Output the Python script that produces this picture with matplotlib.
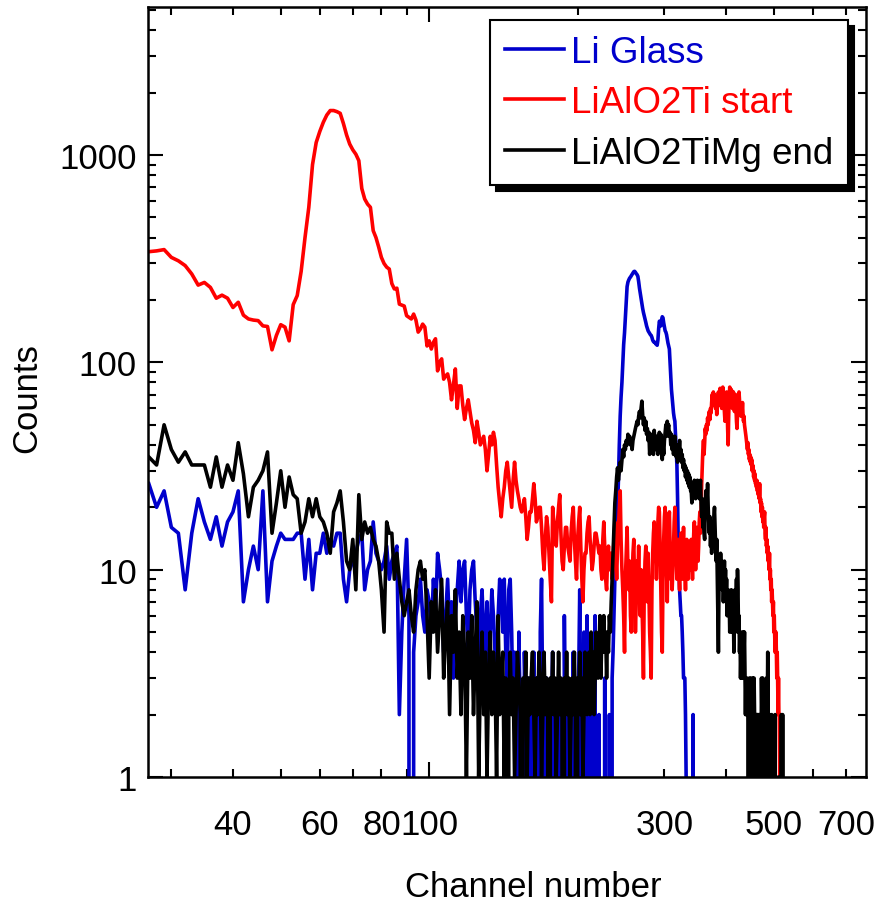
import numpy as np
import matplotlib
matplotlib.use("Agg")
import matplotlib.pyplot as plt
from matplotlib.ticker import FixedLocator, FuncFormatter, NullFormatter

plt.rcParams['font.family'] = ['Liberation Sans', 'DejaVu Sans']

# counts per channel, first channel = 27
first_channel = 27

li_glass = [
    26, 20, 24,
    16, 15, 8, 15, 22, 17, 14, 18, 13, 17,
    19, 24, 7, 10, 13, 10, 24, 7, 11, 13,
    15, 14, 14, 14, 15, 15, 9, 14, 8, 12,
    12, 15, 12, 14, 13, 15, 15, 9, 7, 10,
    11, 12, 14, 15, 8, 10, 11, 17, 12, 11,
    10, 11, 13, 9, 11, 12, 13, 2, 5, 9,
    14, 6, 0, 4, 6, 7, 9, 6, 5, 8,
    7, 5, 9, 6, 12, 10, 8, 4, 6, 9,
    5, 7, 3, 6, 8, 11, 7, 10, 11, 6,
    4, 8, 10, 11, 7, 5, 3, 6, 8, 5,
    4, 7, 3, 5, 8, 6, 4, 2, 6, 9,
    7, 5, 9, 4, 3, 8, 9, 5, 2, 4,
    3, 0, 5, 2, 1, 0, 4, 2, 0, 3,
    1, 0, 2, 4, 1, 0, 3, 0, 5, 9,
    2, 0, 1, 3, 0, 2, 0, 1, 4, 0,
    2, 0, 0, 3, 1, 0, 2, 0, 6, 1,
    0, 3, 0, 2, 0, 1, 4, 0, 2, 0,
    0, 3, 8, 2, 0, 1, 5, 0, 2, 6,
    0, 3, 0, 0, 4, 0, 0, 6, 0, 0,
    0, 2, 0, 0, 0, 0, 0, 3, 0, 0,
    0, 0, 2, 0, 0, 3, 4, 6, 9, 12,
    14, 20, 27, 40, 55, 68, 80, 100, 122, 139,
    165, 200, 232, 244, 250, 255, 258, 262, 266, 270,
    274, 275, 272, 268, 265, 260, 245, 228, 215, 203,
    192, 182, 174, 168, 162, 156, 150, 146, 142, 140,
    138, 136, 135, 132, 128, 126, 125, 125, 123, 122,
    121, 128, 145, 158, 155, 150, 160, 166, 164, 155,
    148, 142, 140, 136, 130, 124, 120, 116, 100, 86,
    74, 68, 62, 57, 54, 52, 44, 38, 32, 22,
    13, 10, 8, 7, 6, 6, 5, 4, 3, 3,
    3, 2, 1, 0, 0, 0, 0, 0, 0, 0,
    0, 0, 0, 2, 0, 0, 0, 0, 0, 0,
    0, 0, 0, 0, 0, 0, 0, 0, 0, 0,
    0, 0, 0, 0, 0, 0, 0, 0, 0, 0,
    0, 0, 0, 0, 0, 0, 0, 0, 0, 0,
    0, 0, 0, 0, 0, 0, 0, 0, 0, 0,
    0, 0, 0, 0, 0, 0, 0, 0, 0, 0,
    0, 0, 0, 0, 0, 0, 0, 0, 0, 0,
    0, 0, 0, 0, 0, 0, 0, 0, 0, 0,
    0, 0, 0, 0, 0, 0, 0, 0, 0, 0,
    0, 0, 0, 0, 0, 0, 0, 0, 0, 0,
    0, 0, 0, 0, 0, 0, 0, 0, 0, 0,
    0, 0, 0, 0, 0, 0, 0, 0, 0, 0,
    0, 0, 0, 0, 0, 0, 0, 0, 0, 0,
    0, 0, 0, 0, 0, 0, 0, 0, 0, 0,
    0, 0, 0, 0, 0, 0, 0, 0, 0, 0,
    0, 0, 0, 0, 0, 0, 0, 0, 0, 0,
    0, 0, 0, 0, 0, 0, 0, 0, 0, 0,
    0, 0, 0,
]

lialo2ti_start = [
    342, 345, 350,
    321, 309, 293, 267, 236, 243, 230, 204, 211, 204,
    184, 195, 169, 162, 160, 159, 150, 149, 115, 135,
    152, 148, 127, 190, 210, 275, 400, 560, 900, 1150,
    1300, 1440, 1560, 1640, 1640, 1620, 1590, 1420, 1250, 1130,
    1060, 1010, 940, 690, 614, 580, 560, 432, 400, 360,
    321, 300, 288, 282, 240, 226, 228, 191, 189, 187,
    168, 165, 162, 171, 160, 140, 145, 153, 148, 120,
    127, 116, 125, 130, 91, 100, 104, 83, 86, 88,
    80, 66, 78, 93, 60, 77, 77, 62, 53, 60,
    66, 58, 51, 47, 41, 52, 46, 40, 42, 44,
    38, 30, 36, 44, 40, 46, 42, 32, 25, 21,
    18, 22, 25, 30, 33, 28, 24, 20, 27, 33,
    27, 24, 22, 20, 19, 20, 22, 18, 14, 16,
    19, 19, 22, 26, 22, 17, 18, 20, 20, 16,
    12, 10, 14, 18, 16, 12, 9, 7, 20, 17,
    15, 13, 17, 20, 23, 15, 11, 10, 13, 16,
    16, 13, 12, 11, 15, 18, 20, 14, 11, 9,
    14, 17, 20, 13, 9, 7, 10, 12, 12, 15,
    17, 18, 14, 12, 10, 11, 13, 15, 15, 14,
    13, 12, 13, 10, 9, 14, 17, 13, 9, 8,
    11, 13, 10, 10, 12, 9, 11, 14, 17, 12,
    9, 13, 16, 20, 24, 14, 10, 8, 6, 4,
    9, 12, 16, 10, 8, 11, 6, 5, 9, 12,
    14, 8, 5, 7, 11, 9, 13, 8, 6, 10,
    7, 5, 3, 8, 11, 13, 9, 7, 12, 8,
    5, 4, 3, 8, 12, 15, 17, 11, 14, 9,
    12, 17, 20, 19, 13, 8, 5, 4, 9, 14,
    18, 20, 14, 10, 7, 12, 16, 19, 13, 9,
    11, 8, 10, 13, 17, 20, 15, 12, 9, 11,
    14, 10, 8, 12, 15, 11, 9, 13, 16, 12,
    10, 8, 11, 14, 12, 9, 11, 13, 10, 12,
    14, 11, 9, 12, 15, 17, 13, 10, 12, 16,
    14, 11, 13, 17, 19, 15, 20, 26, 32, 38,
    42, 36, 41, 48, 45, 50, 47, 54, 50, 56,
    58, 53, 60, 57, 64, 70, 62, 72, 66, 70,
    64, 60, 66, 56, 62, 68, 72, 66, 62, 75,
    72, 66, 60, 70, 76, 70, 64, 58, 52, 60,
    66, 72, 62, 48, 40, 55, 68, 76, 70, 66,
    74, 68, 60, 66, 72, 64, 58, 66, 70, 60,
    52, 48, 56, 62, 68, 72, 66, 60, 58, 55,
    62, 58, 64, 56, 52, 55, 50, 48, 46, 44,
    42, 40, 38, 41, 36, 38, 34, 36, 33, 35,
    32, 34, 30, 32, 31, 28, 30, 27, 29, 26,
    27, 25, 27, 24, 26, 23, 25, 22, 26, 21,
    22, 19, 21, 18, 20, 17, 19, 16, 18, 19,
    15, 14, 16, 13, 14, 12, 13, 11, 12, 10,
    12, 9, 10, 8, 9, 7, 8, 7, 6, 7,
    5, 6, 5, 4, 5, 5, 4, 3, 4, 3,
    2, 3, 2, 2, 1, 2, 1, 1, 0, 1,
    0, 0, 0,
]

lialo2timg_end = [
    35, 32, 50,
    38, 33, 37, 32, 32, 32, 25, 35, 25, 32,
    27, 41, 29, 18, 25, 27, 30, 37, 15, 21,
    30, 20, 28, 23, 22, 15, 17, 22, 18, 22,
    18, 17, 15, 12, 19, 21, 24, 17, 11, 10,
    14, 8, 23, 14, 17, 15, 16, 14, 13, 11,
    8, 5, 17, 15, 15, 9, 12, 9, 7, 6,
    7, 8, 6, 5, 8, 10, 11, 9, 10, 6,
    3, 7, 5, 8, 4, 6, 9, 3, 5, 7,
    2, 6, 4, 8, 3, 5, 2, 6, 4, 1,
    5, 3, 6, 2, 4, 7, 1, 3, 5, 2,
    4, 1, 3, 5, 2, 4, 3, 1, 6, 2,
    3, 4, 1, 3, 0, 2, 4, 2, 3, 1,
    2, 4, 3, 2, 0, 3, 2, 4, 1, 3,
    2, 3, 4, 2, 1, 3, 2, 4, 3, 1,
    2, 4, 2, 3, 2, 0, 3, 2, 4, 2,
    3, 1, 2, 4, 2, 3, 2, 0, 3, 2,
    4, 2, 3, 1, 2, 3, 2, 4, 2, 0,
    3, 2, 4, 2, 3, 1, 2, 4, 3, 2,
    3, 4, 2, 5, 3, 4, 2, 3, 5, 4,
    3, 4, 6, 3, 5, 4, 6, 4, 5, 3,
    5, 4, 6, 5, 7, 9, 12, 16, 21, 24,
    28, 31, 27, 30, 33, 30, 34, 38, 35, 40,
    38, 42, 40, 45, 41, 44, 40, 41, 38, 42,
    44, 46, 48, 50, 52, 50, 55, 58, 54, 60,
    65, 56, 50, 54, 47, 52, 45, 48, 42, 46,
    36, 42, 38, 45, 40, 36, 47, 42, 38, 44,
    40, 36, 42, 46, 40, 45, 38, 34, 40, 36,
    42, 46, 50, 44, 52, 48, 50, 44, 46, 40,
    45, 38, 42, 36, 40, 44, 37, 35, 38, 33,
    40, 36, 42, 34, 38, 33, 36, 31, 34, 30,
    32, 28, 31, 27, 30, 26, 29, 25, 28, 24,
    24, 21, 25, 23, 26, 27, 24, 22, 26, 23,
    27, 24, 26, 22, 25, 27, 21, 18, 22, 16,
    18, 15, 14, 20, 24, 18, 22, 26, 20, 17,
    15, 18, 13, 16, 12, 15, 17, 14, 18, 20,
    16, 13, 11, 14, 9, 6, 4, 8, 11, 9,
    12, 10, 11, 8, 10, 7, 9, 11, 8, 10,
    7, 9, 6, 8, 8, 6, 7, 5, 7, 6,
    8, 5, 7, 6, 6, 4, 6, 8, 5, 7,
    9, 6, 10, 8, 5, 6, 4, 5, 3, 4,
    3, 5, 4, 3, 5, 4, 5, 3, 2, 3,
    2, 3, 2, 2, 1, 2, 3, 1, 2, 3,
    2, 1, 2, 3, 2, 3, 3, 2, 1, 2,
    1, 2, 0, 2, 1, 2, 1, 0, 2, 1,
    2, 1, 3, 2, 1, 3, 2, 1, 0, 2,
    1, 2, 0, 3, 1, 2, 4, 2, 1, 0,
    1, 2, 0, 1, 0, 2, 0, 1, 0, 0,
    1, 0, 0, 2, 0, 1, 0, 0, 0, 0,
    0, 1, 0, 0, 0, 0, 0, 0, 2, 0,
    0, 2, 0,
]

labels = ["Li Glass", "LiAlO2Ti start", "LiAlO2TiMg end"]
colors = ["#0000cc", "#ff0000", "#000000"]

x_minor = [30, 40, 50, 60, 70, 80, 90, 200, 300, 400, 500, 600, 700]
x_labelled = [40, 60, 80, 300, 500, 700]

fig = plt.figure(figsize=(8.82, 9.03), dpi=100)
ax = fig.add_axes([148 / 882, 1 - 778 / 903, 718 / 882, 770 / 903])

for counts, lab, col in zip([li_glass, lialo2ti_start, lialo2timg_end], labels, colors):
    ch = np.arange(first_channel, first_channel + len(counts))
    ax.plot(ch, counts, color=col, lw=2.6, label=lab)

ax.set_xscale('log')
ax.set_yscale('log')
ax.set_xlim(26.9, 769)
ax.set_ylim(1, 5180)

ax.xaxis.set_major_locator(FixedLocator([100]))
ax.xaxis.set_major_formatter(FuncFormatter(lambda v, p: "%g" % v))
ax.xaxis.set_minor_locator(FixedLocator(x_minor))
ax.xaxis.set_minor_formatter(FuncFormatter(lambda v, p: "%g" % v if round(v) in x_labelled else ""))

ax.yaxis.set_major_locator(FixedLocator([1, 10, 100, 1000]))
ax.yaxis.set_major_formatter(FuncFormatter(lambda v, p: "%g" % v))
y_minor = [m * d for d in [1, 10, 100, 1000] for m in range(2, 10)]
ax.yaxis.set_minor_locator(FixedLocator(y_minor))
ax.yaxis.set_minor_formatter(NullFormatter())

ax.tick_params(which='both', direction='in', top=True, right=True, width=1.5, labelsize=25)
ax.tick_params(which='major', length=10.5)
ax.tick_params(which='minor', length=5.5)
ax.tick_params(axis='x', which='both', pad=22)
ax.tick_params(axis='y', which='both', pad=8)
for s in ax.spines.values():
    s.set_linewidth(1.8)

ax.set_xlabel("Channel number", fontsize=25)
ax.set_ylabel("Counts", fontsize=25)
ax.xaxis.set_label_coords(0.536, -0.121)
ax.yaxis.set_label_coords(-0.146, 0.494)

leg = ax.legend(loc='upper right', bbox_to_anchor=(848 / 882, 1 - 21 / 903),
                bbox_transform=fig.transFigure, fontsize=26.5, labelcolor='linecolor',
                fancybox=False, edgecolor='black', framealpha=1,
                shadow={'color': 'black', 'alpha': 1, 'ox': 4, 'oy': -4},
                handlelength=1.6, handletextpad=0.2, borderaxespad=0,
                borderpad=0.4, labelspacing=0.42)
leg.get_frame().set_linewidth(1.5)

fig.savefig("out.png", dpi=100)
